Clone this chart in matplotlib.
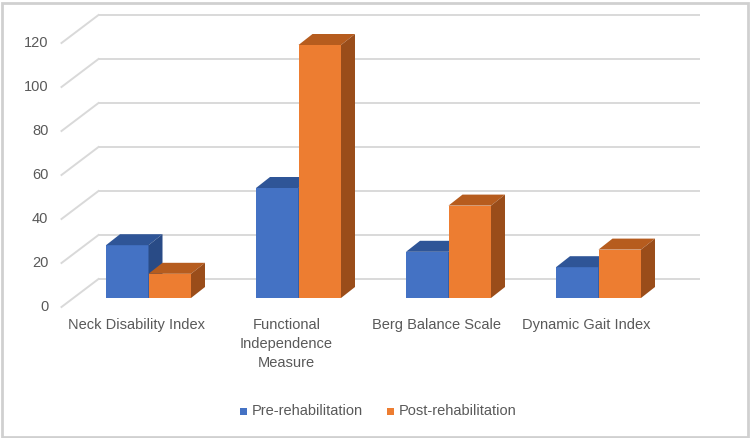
import matplotlib.pyplot as plt
from matplotlib.patches import Polygon, Rectangle

categories = ["Neck Disability Index", "Functional\nIndependence\nMeasure",
              "Berg Balance Scale", "Dynamic Gait Index"]
pre_rehab = [24, 50, 21, 14]
post_rehab = [11, 115, 42, 22]
series_names = ["Pre-rehabilitation", "Post-rehabilitation"]
yticks = [0, 20, 40, 60, 80, 100, 120]

front_cols = ["#4472C4", "#ED7D31"]
top_cols = ["#2F5597", "#B65C1E"]
side_cols = ["#294B86", "#9A4D1A"]
grid_col = "#D9D9D9"
text_col = "#595959"

plt.rcParams['font.family'] = ['Liberation Sans', 'DejaVu Sans']

fig = plt.figure(figsize=(7.5, 4.38), dpi=100)
ax = fig.add_axes([0, 0, 1, 1])
# pixel scale: 150 px per category, 2.2 px per unit
px_x, px_y = 150.0, 2.2
ax.set_xlim(-148.5 / px_x, (750 - 148.5) / px_x)
ax.set_ylim((298 - 438) / px_y, 298 / px_y)
ax.axis('off')


def off(dx, dy):
    # oblique depth offset given in pixels
    return dx / px_x, dy / px_y


bdx, bdy = off(14, 11)     # bar depth
wdx, wdy = off(25, 19)     # back wall from bar front plane
fdx, fdy = off(-12, -9)    # floor front from bar front plane
left, right = -0.5, 3.5

# back wall gridlines and left-side diagonals
for v in yticks:
    ax.plot([left + wdx, right + wdx], [v + wdy, v + wdy], color=grid_col, lw=1.4, zorder=1)
    ax.plot([left + fdx, left + wdx], [v + fdy, v + wdy], color=grid_col, lw=1.4, zorder=1)
    ax.text(left + fdx - 13 / px_x, v + fdy, str(v), ha='right', va='center',
            fontsize=10.5, color=text_col)

width = 42.5 / px_x
for i, cat in enumerate(categories):
    for s, vals in enumerate([pre_rehab, post_rehab]):
        x0 = i - width + s * width
        x1 = x0 + width
        h = vals[i]
        ax.add_patch(Polygon([(x0, 0), (x1, 0), (x1, h), (x0, h)], closed=True,
                             facecolor=front_cols[s], edgecolor='none', zorder=3))
        ax.add_patch(Polygon([(x0, h), (x1, h), (x1 + bdx, h + bdy), (x0 + bdx, h + bdy)],
                             closed=True, facecolor=top_cols[s], edgecolor='none', zorder=3))
        ax.add_patch(Polygon([(x1, 0), (x1 + bdx, bdy), (x1 + bdx, h + bdy), (x1, h)],
                             closed=True, facecolor=side_cols[s], edgecolor='none', zorder=3))
    ax.text(i + fdx, (298 - 318) / px_y, cat, ha='center', va='top',
            fontsize=10.5, color=text_col, linespacing=1.45)

# legend
leg_y = (298 - 411) / px_y
lx = [(240 - 148.5) / px_x, (387 - 148.5) / px_x]
for s, name in enumerate(series_names):
    ax.add_patch(Rectangle((lx[s], leg_y - 3.5 / px_y), 7 / px_x, 7 / px_y,
                           facecolor=front_cols[s], edgecolor='none'))
    ax.text(lx[s] + 12 / px_x, leg_y, name, ha='left', va='center',
            fontsize=10.5, color=text_col)

# chart border
fig.patches.append(Rectangle((1.5 / 750, 1.5 / 438), 746 / 750, 434 / 438,
                             transform=fig.transFigure, fill=False,
                             edgecolor='#D0D0D0', lw=2))

fig.savefig("out.png", dpi=100)
